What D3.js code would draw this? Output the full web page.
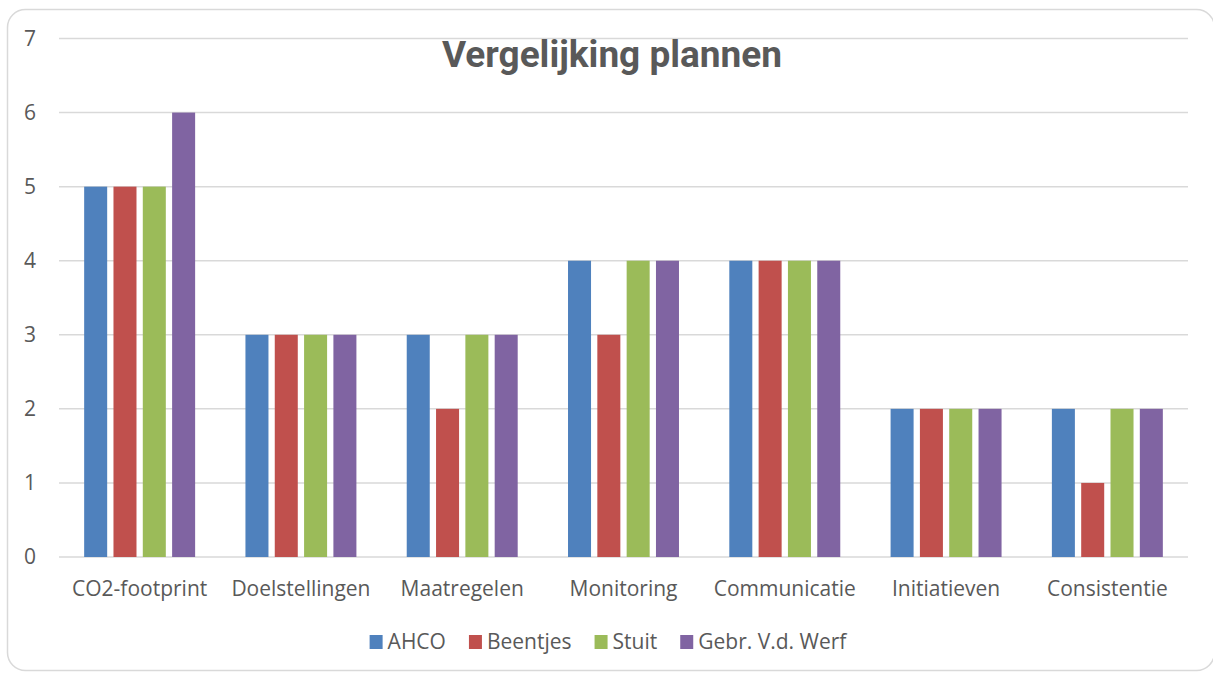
<!DOCTYPE html>
<html>
<head>
<meta charset="utf-8">
<script src="https://cdn.jsdelivr.net/npm/d3@7"></script>
<style>
  body { margin: 0; background: #fff; }
  text { font-family: "Open Sans", "Noto Sans", sans-serif; fill: #595959; }
</style>
</head>
<body>
<div id="main"></div>
<script>
const categories = ["CO2-footprint", "Doelstellingen", "Maatregelen", "Monitoring", "Communicatie", "Initiatieven", "Consistentie"];
const seriesNames = ["AHCO", "Beentjes", "Stuit", "Gebr. V.d. Werf"];
const ahco     = [5, 3, 3, 4, 4, 2, 2];
const beentjes = [5, 3, 2, 3, 4, 2, 1];
const stuit    = [5, 3, 3, 4, 4, 2, 2];
const werf     = [6, 3, 3, 4, 4, 2, 2];
const yTicks = [0, 1, 2, 3, 4, 5, 6, 7];
const colors = ["#4f81bd", "#c0504d", "#9bbb59", "#8064a2"];

const width = 1213, height = 673;
const margin = {top: 38.5, right: 25, bottom: 116, left: 59};
const allSeries = [ahco, beentjes, stuit, werf];
const labelSize = "21px";

const svg = d3.select("#main")
  .append("svg")
  .attr("width", width)
  .attr("height", height);

// chart border
svg.append("rect")
  .attr("x", 7.5).attr("y", 9.5)
  .attr("width", 1207).attr("height", 661)
  .attr("rx", 18).attr("ry", 18)
  .attr("fill", "#fff")
  .attr("stroke", "#d9d9d9")
  .attr("stroke-width", 1.5);

const x0 = d3.scaleBand()
  .domain(categories)
  .range([margin.left, width - margin.right])
  .paddingInner(0.312)
  .paddingOuter(0.156);

const x1 = d3.scaleBand()
  .domain(seriesNames)
  .range([0, x0.bandwidth()])
  .paddingInner(0.215);

const y = d3.scaleLinear()
  .domain([0, 7])
  .range([height - margin.bottom, margin.top]);

// gridlines
svg.append("g")
  .selectAll("line")
  .data(yTicks)
  .enter()
  .append("line")
  .attr("x1", margin.left)
  .attr("x2", width - margin.right)
  .attr("y1", d => y(d))
  .attr("y2", d => y(d))
  .attr("stroke", "#d9d9d9")
  .attr("stroke-width", 1.5);

// y labels
const yAxis = d3.axisLeft(y).tickValues(yTicks).tickFormat(d3.format("d")).tickSize(0).tickPadding(0);
const yg = svg.append("g")
  .attr("transform", "translate(36,0)")
  .call(yAxis);
yg.select(".domain").remove();
yg.selectAll("text")
  .style("font-size", labelSize)
  .attr("fill", "#595959");

// bars
const groups = svg.append("g")
  .selectAll("g")
  .data(categories)
  .enter()
  .append("g")
  .attr("transform", d => "translate(" + x0(d) + ",0)");

groups.selectAll("rect")
  .data((c, i) => seriesNames.map((s, j) => ({s: s, v: allSeries[j][i], j: j})))
  .enter()
  .append("rect")
  .attr("x", d => x1(d.s))
  .attr("width", x1.bandwidth())
  .attr("y", d => y(d.v))
  .attr("height", d => y(0) - y(d.v))
  .attr("fill", d => colors[d.j]);

// x labels
const xAxis = d3.axisBottom(x0).tickSize(0).tickPadding(0);
const xg = svg.append("g")
  .attr("transform", "translate(0,581)")
  .call(xAxis);
xg.select(".domain").remove();
xg.selectAll("text")
  .style("font-size", labelSize)
  .attr("fill", "#595959");

// title
svg.append("text")
  .attr("x", 612)
  .attr("y", 67)
  .attr("text-anchor", "middle")
  .style("font-family", "Roboto, sans-serif")
  .style("font-weight", "bold")
  .style("font-size", "37px")
  .text("Vergelijking plannen");

// legend
const legend = svg.append("g");
let lx = 0;
seriesNames.forEach(function(name, i) {
  const item = legend.append("g").attr("transform", "translate(" + lx + ",0)");
  item.append("rect")
    .attr("x", 0).attr("y", 635)
    .attr("width", 13).attr("height", 14)
    .attr("fill", colors[i]);
  const t = item.append("text")
    .attr("x", 18).attr("y", 649)
    .style("font-size", labelSize)
    .text(name);
  lx += 18 + t.node().getComputedTextLength() + 23;
});
const legendW = lx - 23;
legend.attr("transform", "translate(" + (608 - legendW / 2) + ",0)");
</script>
</body>
</html>
